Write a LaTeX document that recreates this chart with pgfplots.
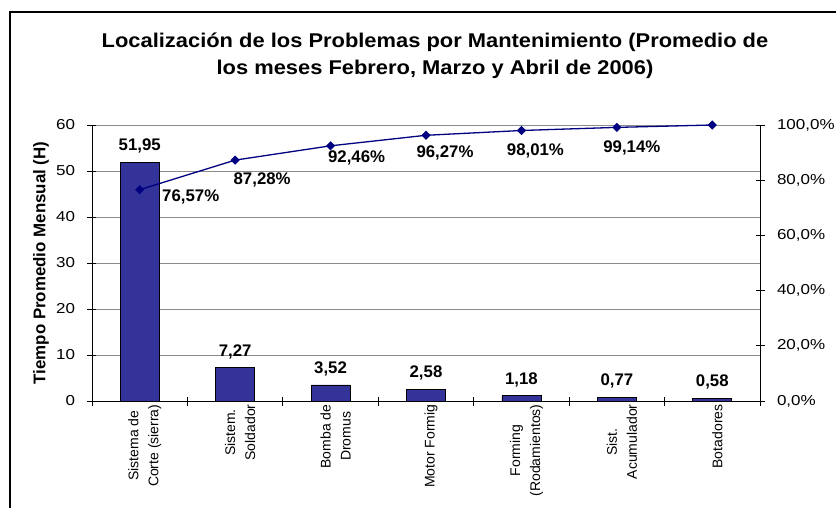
\documentclass[border=0pt]{standalone}
\usepackage{fontspec}
\setmainfont{Liberation Sans}
\newfontfamily\tickfont[FakeStretch=1.18]{Liberation Sans}
\newfontfamily\titlefont[FakeStretch=1.1]{Liberation Sans}
\usepackage{pgfplots}
\pgfplotsset{compat=1.18}
\definecolor{barblue}{RGB}{51,51,153}
\definecolor{linenavy}{RGB}{0,0,128}
\definecolor{gridgray}{RGB}{140,140,140}

\begin{document}
\begin{tikzpicture}[x=1pt,y=1pt]
\useasboundingbox (0,0) rectangle (836,507);
\clip (0,0) rectangle (836,507);
\fill[white] (0,0) rectangle (836,507);
\draw[line width=1.5pt] (10,-20) -- (10,495) -- (860,495);
\node[font=\titlefont\bfseries\fontsize{19.9}{24}\selectfont, anchor=base] at (435,459) {Localización de los Problemas por Mantenimiento (Promedio de};
\node[font=\titlefont\bfseries\fontsize{19.9}{24}\selectfont, anchor=base] at (435,432) {los meses Febrero, Marzo y Abril de 2006)};
\node[rotate=90, font=\bfseries\fontsize{16.9}{20}\selectfont] at (41,244) {Tiempo Promedio Mensual (H)};

\begin{axis}[
  at={(92pt,106pt)}, anchor=south west,
  width=668pt, height=276pt, scale only axis,
  xmin=-0.5, xmax=6.5, ymin=0, ymax=60,
  axis x line*=bottom, axis y line*=left,
  axis line style={black, line width=0.8pt, -},
  ytick={0,10,...,60},
  ymajorgrids, grid style={gridgray, line width=0.8pt},
  tick align=center, major tick length=9pt,
  tick style={black, line width=0.8pt},
  xtick={-0.5,0.5,...,6.5}, xticklabels={},
  extra x ticks={0,1,2,3,4,5,6},
  extra x tick labels={{Sistema de\\Corte (sierra)},{Sistem.\\Soldador},{Bomba de\\Dromus},{Motor Formig},{Forming\\(Rodamientos)},{Sist.\\Acumulador},{Botadores}},
  extra x tick style={major tick length=0pt, grid=none},
  xticklabel style={rotate=90, anchor=east, align=center, font=\fontsize{14}{20}\selectfont, yshift=-5pt},
  yticklabel style={font=\tickfont\fontsize{14.4}{18}\selectfont, xshift=-9pt},
  /pgf/number format/assume math mode=true,
]
\addplot[ybar, bar width=39pt, fill=barblue, draw=black, line width=0.6pt,
  nodes near coords={\pgfmathprintnumber[fixed,fixed zerofill,precision=2,use comma]{\pgfplotspointmeta}},
  every node near coord/.append style={anchor=base, yshift=11.5pt, font=\bfseries\fontsize{16.8}{19}\selectfont, text=black}]
  coordinates {(0,51.95) (1,7.27) (2,3.52) (3,2.58) (4,1.18) (5,0.77) (6,0.58)};
\end{axis}

\begin{axis}[
  at={(92pt,106pt)}, anchor=south west,
  width=668pt, height=276pt, scale only axis,
  xmin=-0.5, xmax=6.5, ymin=0, ymax=100,
  axis x line=none, axis y line*=right,
  axis line style={black, line width=0.8pt, -},
  ytick={0,20,...,100},
  tick align=center, major tick length=9pt,
  tick style={black, line width=0.8pt},
  yticklabel={\pgfmathprintnumber[fixed,fixed zerofill,precision=1,use comma]{\tick}\%},
  yticklabel style={font=\tickfont\fontsize{14.4}{18}\selectfont, xshift=9pt},
  /pgf/number format/assume math mode=true,
  clip=false,
]
\addplot[linenavy, line width=1.3pt, mark=square*, mark size=2.6pt, mark options={rotate=45, fill=linenavy, draw=linenavy}]
  coordinates {(0,76.57) (1,87.28) (2,92.46) (3,96.27) (4,98.01) (5,99.14) (6,100)};
\begin{scope}[every node/.style={anchor=base, font=\bfseries\fontsize{16.8}{19}\selectfont}]
\node[xshift=51pt, yshift=-11.7pt] at (axis cs:0,76.57) {76,57\%};
\node[xshift=27pt, yshift=-24.7pt] at (axis cs:1,87.28) {87,28\%};
\node[xshift=26pt, yshift=-16.7pt] at (axis cs:2,92.46) {92,46\%};
\node[xshift=19pt, yshift=-22.7pt] at (axis cs:3,96.27) {96,27\%};
\node[xshift=14pt, yshift=-24.7pt] at (axis cs:4,98.01) {98,01\%};
\node[xshift=15pt, yshift=-24.7pt] at (axis cs:5,99.14) {99,14\%};
\end{scope}
\end{axis}
\end{tikzpicture}
\end{document}
